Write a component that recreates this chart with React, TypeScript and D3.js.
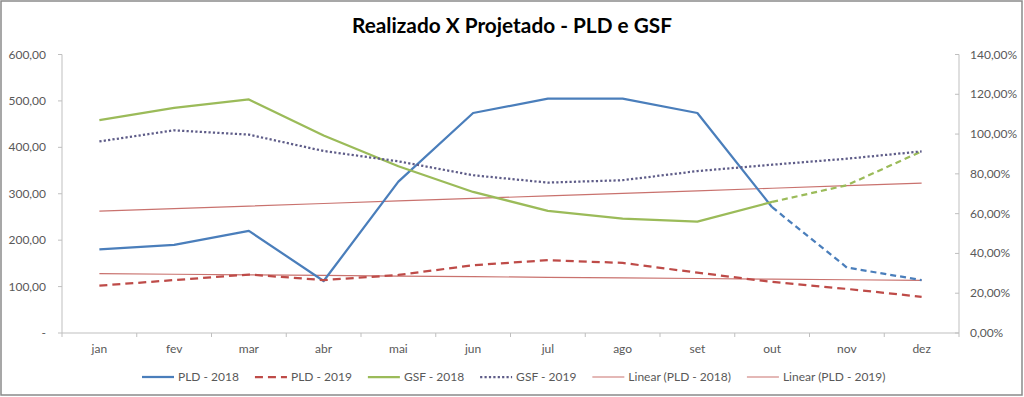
import React, { useEffect, useRef } from "react";
import * as d3 from "d3";

const months = ["jan", "fev", "mar", "abr", "mai", "jun", "jul", "ago", "set", "out", "nov", "dez"];
const pld2018 = [180, 190, 220, 112, 326, 474, 505, 505, 474, 271, 141, 114];
const pld2019 = [102, 114, 126, 114, 125, 146, 157, 151, 130, 110, 95, 78];
const gsf2018 = [1.07, 1.132, 1.174, 0.993, 0.838, 0.709, 0.614, 0.575, 0.56, 0.659, 0.743, 0.913];
const gsf2019 = [0.963, 1.019, 0.997, 0.915, 0.863, 0.793, 0.756, 0.768, 0.814, 0.846, 0.876, 0.913];
const leftTicks = [0, 100, 200, 300, 400, 500, 600];
const rightTicks = [0, 0.2, 0.4, 0.6, 0.8, 1.0, 1.2, 1.4];
// index from which 2018 values are projections (dashed)
const projectedFrom = 9;

const FONT = "Lato, 'Open Sans', sans-serif";
const LABEL = "#595959";

const App: React.FC = () => {
  const svgRef: any = useRef();

  useEffect(() => {
    document.body.style.margin = "0";
    const svg = d3.select(svgRef.current);
    svg.selectAll("*").remove();

    const width = 1024;
    const height = 397;
    const left = 62, right = 959, top = 54.5, bottom = 333;

    const br = d3.formatLocale({ decimal: ",", thousands: ".", grouping: [3], currency: ["R$", ""] });
    const fmtNum = br.format(",.2f");
    const fmtPct = br.format(".2%");

    const x = d3.scaleBand().domain(months).range([left, right]).padding(0);
    const cx = (m: string) => (x(m) as number) + x.bandwidth() / 2;
    const yL = d3.scaleLinear().domain([0, 600]).range([bottom, top]);
    const yR = d3.scaleLinear().domain([0, 1.4]).range([bottom, top]);

    svg.append("rect")
      .attr("x", 1).attr("y", 1).attr("width", width - 3).attr("height", height - 3)
      .attr("fill", "#fff").attr("stroke", "#8a8a8a").attr("stroke-width", 1.5);

    svg.append("text")
      .attr("x", 512).attr("y", 33)
      .attr("text-anchor", "middle")
      .attr("font-family", FONT).attr("font-weight", "bold").attr("font-size", 20.8)
      .attr("fill", "#000")
      .text("Realizado X Projetado - PLD e GSF");

    // axes
    const axisColor = "#bfbfbf";
    svg.append("line").attr("x1", left).attr("x2", left).attr("y1", top).attr("y2", bottom)
      .attr("stroke", axisColor);
    svg.append("line").attr("x1", right).attr("x2", right).attr("y1", top).attr("y2", bottom)
      .attr("stroke", axisColor);
    svg.append("line").attr("x1", left).attr("x2", right).attr("y1", bottom).attr("y2", bottom)
      .attr("stroke", axisColor);

    leftTicks.forEach((t) => {
      svg.append("line").attr("x1", left - 4).attr("x2", left).attr("y1", yL(t)).attr("y2", yL(t))
        .attr("stroke", axisColor);
      svg.append("text")
        .attr("x", 46).attr("y", yL(t)).attr("dy", 4)
        .attr("text-anchor", "end")
        .attr("font-family", FONT).attr("font-size", 12).attr("fill", LABEL)
        .text(t === 0 ? "-" : fmtNum(t));
    });

    rightTicks.forEach((t) => {
      svg.append("line").attr("x1", right - 4).attr("x2", right).attr("y1", yR(t)).attr("y2", yR(t))
        .attr("stroke", axisColor);
      svg.append("text")
        .attr("x", 970).attr("y", yR(t)).attr("dy", 4)
        .attr("text-anchor", "start")
        .attr("font-family", FONT).attr("font-size", 12).attr("fill", LABEL)
        .text(fmtPct(t));
    });

    months.forEach((m) => {
      const bx = x(m) as number;
      svg.append("line").attr("x1", bx).attr("x2", bx).attr("y1", bottom).attr("y2", bottom + 4)
        .attr("stroke", axisColor);
      svg.append("text")
        .attr("x", cx(m)).attr("y", 353)
        .attr("text-anchor", "middle")
        .attr("font-family", FONT).attr("font-size", 12).attr("fill", LABEL)
        .text(m);
    });
    svg.append("line").attr("x1", right).attr("x2", right).attr("y1", bottom).attr("y2", bottom + 4)
      .attr("stroke", axisColor);

    // linear trendlines
    const trend = (vals: number[]) => {
      const xs = vals.map((_, i) => i + 1);
      const mx = d3.mean(xs) as number;
      const my = d3.mean(vals) as number;
      const sxy = d3.sum(xs, (v, i) => (v - mx) * (vals[i] - my));
      const sxx = d3.sum(xs, (v) => (v - mx) * (v - mx));
      const b = sxy / sxx;
      const a = my - b * mx;
      return xs.map((v) => a + b * v);
    };

    const lineL: any = d3.line<number>().x((_, i) => cx(months[i])).y((d) => yL(d));
    const lineR: any = d3.line<number>().x((_, i) => cx(months[i])).y((d) => yR(d));

    const drawSplit = (vals: number[], yScale: any, color: string, dash: string) => {
      const idx = vals.map((_, i) => i);
      const g: any = d3.line<number>()
        .x((i) => cx(months[i]))
        .y((i) => yScale(vals[i]));
      svg.append("path").attr("d", g(idx.slice(0, projectedFrom + 1)))
        .attr("fill", "none").attr("stroke", color).attr("stroke-width", 2.25)
        .attr("stroke-linejoin", "round");
      svg.append("path").attr("d", g(idx.slice(projectedFrom)))
        .attr("fill", "none").attr("stroke", color).attr("stroke-width", 2.25)
        .attr("stroke-dasharray", dash);
    };

    const trendColor = "#c9726e";
    svg.append("path").attr("d", lineL(trend(pld2018)))
      .attr("fill", "none").attr("stroke", trendColor).attr("stroke-width", 1.2);
    svg.append("path").attr("d", lineL(trend(pld2019)))
      .attr("fill", "none").attr("stroke", trendColor).attr("stroke-width", 1.2);

    drawSplit(pld2018, yL, "#4a7ebb", "6,4");
    svg.append("path").attr("d", lineL(pld2019))
      .attr("fill", "none").attr("stroke", "#be4b48").attr("stroke-width", 2.25)
      .attr("stroke-dasharray", "8,5");
    drawSplit(gsf2018, yR, "#9bbb59", "6,4");
    svg.append("path").attr("d", lineR(gsf2019))
      .attr("fill", "none").attr("stroke", "#5e5c88").attr("stroke-width", 2.25)
      .attr("stroke-dasharray", "2.2,2.2");

    // legend
    const legend = [
      { name: "PLD - 2018", color: "#4a7ebb", dash: "none", w: 2.25 },
      { name: "PLD - 2019", color: "#be4b48", dash: "8,5", w: 2.25 },
      { name: "GSF - 2018", color: "#9bbb59", dash: "none", w: 2.25 },
      { name: "GSF - 2019", color: "#5e5c88", dash: "2.2,2.2", w: 2.25 },
      { name: "Linear (PLD - 2018)", color: trendColor, dash: "none", w: 1.2 },
      { name: "Linear (PLD - 2019)", color: trendColor, dash: "none", w: 1.2 },
    ];
    const lg = svg.append("g");
    let cursor = 0;
    const lineLen = 32, gap = 4, spacing = 16;
    legend.forEach((d, i) => {
      lg.append("line").attr("x1", cursor).attr("x2", cursor + lineLen).attr("y1", 377).attr("y2", 377)
        .attr("stroke", d.color).attr("stroke-width", d.w)
        .attr("stroke-dasharray", d.dash);
      const t = lg.append("text")
        .attr("x", cursor + lineLen + gap).attr("y", 381)
        .attr("font-family", FONT).attr("font-size", 12).attr("fill", LABEL)
        .text(d.name);
      const tw = (t.node() as SVGTextElement).getComputedTextLength();
      cursor += lineLen + gap + tw + (i < legend.length - 1 ? spacing : 0);
    });
    lg.attr("transform", `translate(${Math.round(514 - cursor / 2)},0)`);
  }, []);

  return <svg ref={svgRef} width={1024} height={397} style={{ display: "block" }} />;
};

export default App;
